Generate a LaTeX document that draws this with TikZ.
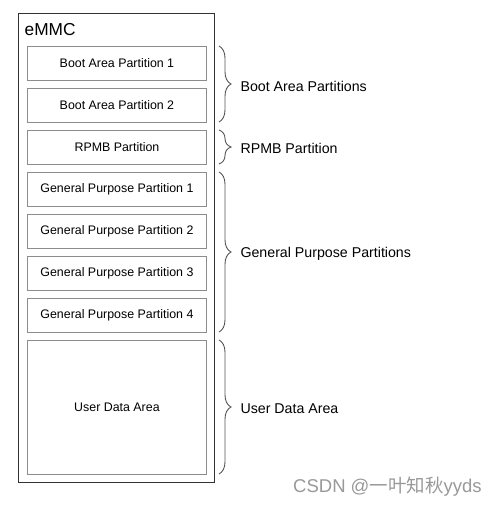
\documentclass[tikz,border=0pt]{standalone}
\usepackage{fontspec}
\setmainfont{Liberation Sans}
\newfontfamily\cjk{Noto Sans CJK SC}
\usetikzlibrary{decorations.pathreplacing}
\definecolor{outerc}{HTML}{333333}
\definecolor{innerc}{HTML}{8C8C8C}
\definecolor{bracec}{HTML}{555555}
\begin{document}
\begin{tikzpicture}[x=1pt,y=-1pt,
  part/.style={draw=innerc,line width=0.9pt,minimum width=179pt,inner sep=0pt,anchor=north west,font=\fontsize{12.4}{14}\selectfont},
  brc/.style={draw=bracec,line width=0.9pt,decorate,decoration={brace,amplitude=12pt}},
  lbl/.style={anchor=west,font=\fontsize{14.2}{16}\selectfont}]
\useasboundingbox (0,0) rectangle (497,506);
\fill[white] (0,0) rectangle (497,506);
\node[draw=outerc,line width=1pt,minimum width=196pt,minimum height=469pt,anchor=north west,inner sep=0pt] (emmc) at (18,13) {};
\node[anchor=west,font=\fontsize{17.3}{19}\selectfont,inner sep=0pt] (title) at (24.5,30) {eMMC};
\node[part,minimum height=34pt] (b1) at (27,46) {Boot Area Partition 1};
\node[part,minimum height=34pt] (b2) at (27,88) {Boot Area Partition 2};
\node[part,minimum height=34pt] (rp) at (27,130) {RPMB Partition};
\node[part,minimum height=34pt] (g1) at (27,172) {General Purpose Partition 1};
\node[part,minimum height=34pt] (g2) at (27,214) {General Purpose Partition 2};
\node[part,minimum height=34pt] (g3) at (27,256) {General Purpose Partition 3};
\node[part,minimum height=34pt] (g4) at (27,298) {General Purpose Partition 4};
\node[part,minimum height=134pt] (ud) at (27,340) {User Data Area};
\coordinate (bt) at (219,46); \coordinate (bb) at (219,122);
\coordinate (rt) at (219,130); \coordinate (rb) at (219,164);
\coordinate (gt) at (219,172); \coordinate (gb) at (219,332);
\coordinate (ut) at (219,340); \coordinate (ub) at (219,474);
\draw[brc] (bt) -- (bb);
\draw[brc] (rt) -- (rb);
\draw[brc] (gt) -- (gb);
\draw[brc] (ut) -- (ub);
\node[lbl] (lb) at (237,86) {Boot Area Partitions};
\node[lbl] (lr) at (237,148) {RPMB Partition};
\node[lbl] (lg) at (237,254) {General Purpose Partitions};
\node[lbl] (lu) at (237,409) {User Data Area};
\node[anchor=west,text=black!40,font=\fontsize{18.5}{20}\selectfont,inner sep=0pt] (wm) at (293,487) {CSDN @{\cjk 一叶知秋}yyds};
\end{tikzpicture}
\end{document}
